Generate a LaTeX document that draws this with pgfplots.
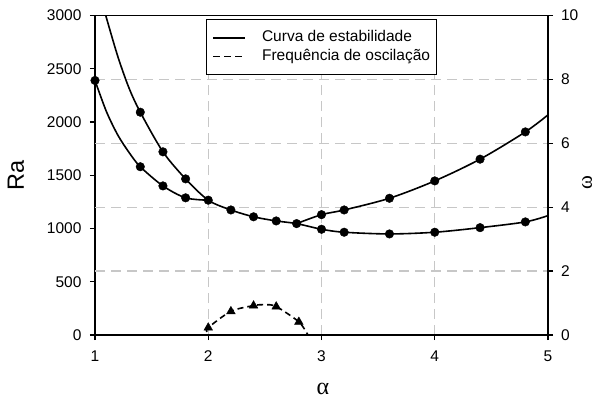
\documentclass[border=0pt]{standalone}
\usepackage{pgfplots}
\pgfplotsset{compat=1.18}
\usepackage{fontspec}
\setmainfont{Liberation Sans}
\newfontfamily\greekfont{Liberation Serif}
\newcommand{\tickfont}{\fontsize{15.5bp}{18bp}\selectfont}
\begin{document}
\begin{tikzpicture}[x=1bp,y=1bp]
\useasboundingbox (-95,-64) rectangle (503,335);
\begin{axis}[
  at={(0,0)}, anchor=south west,
  scale only axis, width=453bp, height=319.5bp,
  xmin=1, xmax=5, ymin=0, ymax=3000,
  xtick={1,2,3,4,5}, ytick={0,500,...,3000},
  xtick pos=bottom, ytick pos=left,
  tick align=outside, major tick length=5bp,
  tick style={black, line width=1.4bp},
  axis line style={line width=1.5bp},
  xmajorgrids=true,
  extra y ticks={600,1200,1800,2400},
  extra y tick labels={},
  extra y tick style={grid=major, major tick length=0pt, tick style={draw=none}},
  major grid style={draw=black!22, dash pattern=on 10bp off 6bp, line width=1.3bp},
  /pgf/number format/assume math mode=true,
  /pgf/number format/set thousands separator={},
  ticklabel style={font=\tickfont},
  yticklabel shift=5bp,
  xticklabel shift=7bp,
  xlabel={\greekfont\fontsize{24bp}{26bp}\selectfont α},
  xlabel style={at={(axis description cs:0.503,-0.169)}, anchor=center},
  ylabel={\fontsize{23.5bp}{26bp}\selectfont Ra},
  ylabel style={at={(axis description cs:-0.1744,0.5)}, anchor=center},
  legend style={nodes={inner sep=0bp, text height=11bp, text depth=3.5bp},
    at={(axis description cs:0.245,0.988)}, anchor=north west,
    draw=black, line width=1.1bp, fill=white, font=\fontsize{15.5bp}{18bp}\selectfont,
    inner xsep=6bp, inner ysep=11bp, row sep=3.8bp,
    /tikz/every odd column/.append style={column sep=16bp}},
  legend cell align=left,
  legend image code/.code={\draw[#1, line width=1.5bp] (0bp,0bp) -- (32bp,0bp);},
]
\addlegendimage{black, solid}
\addlegendentry{Curva de estabilidade\hspace{9bp}}
\addlegendimage{black, dash pattern=on 7bp off 4bp}
\addlegendentry{Frequência de oscilação\hspace{9bp}}
% curve A (lower-left branch)
\addplot[black, line width=1.6bp, smooth, forget plot] coordinates {
(1,2390) (1.1,2100) (1.2,1880) (1.3,1715) (1.4,1580) (1.6,1400) (1.8,1288) (2.0,1266)};
% curve B (steep branch continuing to the right minimum)
\addplot[black, line width=1.6bp, smooth, forget plot] coordinates {
(1.095,3000) (1.2,2620) (1.3,2320) (1.4,2092) (1.6,1720) (1.8,1466) (2.0,1266) (2.2,1174) (2.4,1110) (2.6,1071) (2.78,1046) (3.0,993) (3.2,965) (3.6,949) (4.0,965) (4.4,1008) (4.8,1062) (5.0,1121)};
% curve C (upper-right branch)
\addplot[black, line width=1.6bp, smooth, forget plot] coordinates {
(2.78,1046) (3.0,1130) (3.2,1174) (3.6,1284) (4.0,1447) (4.4,1651) (4.8,1907) (5.0,2067)};
% markers
\addplot[only marks, mark=*, mark size=4.3bp, black, forget plot] coordinates {
(1,2390) (1.4,1580) (1.6,1400) (1.8,1288) (2.0,1266)
(1.4,2092) (1.6,1720) (1.8,1466) (2.2,1174) (2.4,1110) (2.6,1071) (2.78,1046)
(3.0,993) (3.2,965) (3.6,949) (4.0,965) (4.4,1008) (4.8,1062)
(3.0,1130) (3.2,1174) (3.6,1284) (4.0,1447) (4.4,1651) (4.8,1907)};
\end{axis}
\begin{axis}[
  at={(0,0)}, anchor=south west,
  scale only axis, width=453bp, height=319.5bp,
  xmin=1, xmax=5, ymin=0, ymax=10,
  axis y line*=right, axis x line=none,
  ytick={0,2,...,10},
  tick align=outside, major tick length=5bp,
  tick style={black, line width=1.4bp},
  axis line style={line width=1.5bp},
  /pgf/number format/assume math mode=true,
  ticklabel style={font=\tickfont},
  yticklabel shift=4.5bp,
  ylabel={\greekfont\fontsize{21bp}{22bp}\selectfont ω},
  ylabel style={at={(axis description cs:1.086,0.4767)}, anchor=center, inner sep=0pt},
]
\addplot[black, line width=1.6bp, dash pattern=on 6bp off 4bp, smooth] coordinates {
(1.99,0.1) (2.0,0.23) (2.2,0.74) (2.4,0.92) (2.5,0.95) (2.6,0.89) (2.8,0.41) (2.88,0)};
\addplot[only marks, mark=triangle*, mark size=5bp, black] coordinates {
(2.0,0.23) (2.2,0.74) (2.4,0.92) (2.6,0.89) (2.8,0.41)};
\end{axis}
\end{tikzpicture}
\end{document}
